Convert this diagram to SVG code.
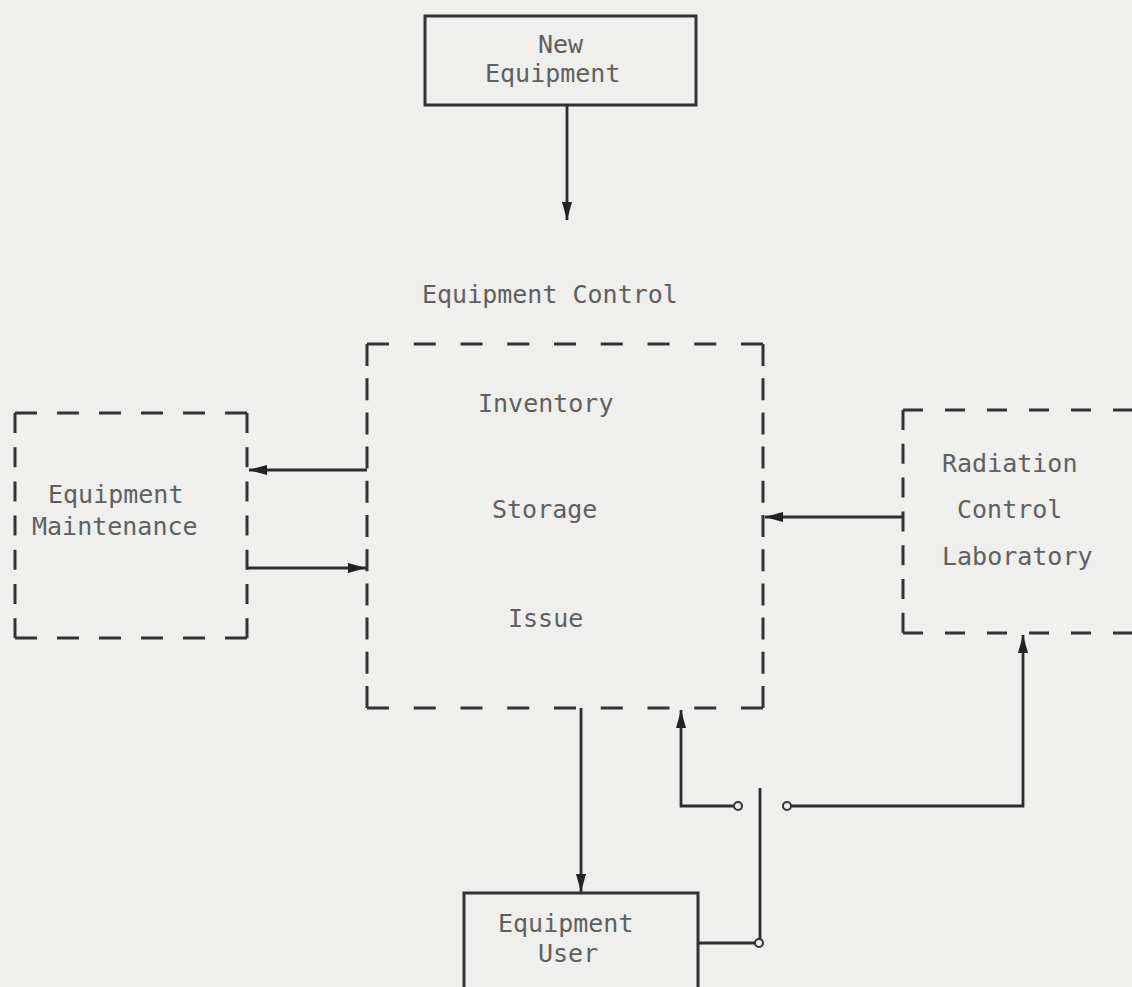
<svg xmlns="http://www.w3.org/2000/svg" width="1132" height="987" viewBox="0 0 1132 987">
<style>
.bg{fill:#efefed}
.box{fill:none;stroke:#333;stroke-width:3}
.dh{fill:none;stroke:#333;stroke-width:3}
.ln{fill:none;stroke:#2e2e2e;stroke-width:2.8}
.t{font-family:"DejaVu Sans Mono","Liberation Mono",monospace;font-size:25px;fill:#606060}
.c{fill:#efefed;stroke:#333;stroke-width:2}
</style>
<defs>
<marker id="ah" viewBox="0 0 18 10" refX="18" refY="5" markerWidth="18" markerHeight="10" markerUnits="userSpaceOnUse" orient="auto">
<path d="M0,0 L18,5 L0,10 z" fill="#222"/>
</marker>
</defs>
<rect class="bg" x="0" y="0" width="1132" height="987"/>

<g id="new-equipment">
<rect class="box" x="425" y="16" width="271" height="89"/>
<text class="t" x="538" y="53">New</text>
<text class="t" x="485" y="82">Equipment</text>
</g>

<g id="equipment-control">
<text class="t" x="422" y="303">Equipment Control</text>
<path class="dh" d="M367,344 L763,344" stroke-dasharray="22 24.75"/>
<path class="dh" d="M367,708 L763,708" stroke-dasharray="22 24.75"/>
<path class="dh" d="M367,344 L367,708" stroke-dasharray="22 12.2"/>
<path class="dh" d="M763,344 L763,708" stroke-dasharray="22 12.2"/>
<text class="t" x="478" y="412">Inventory</text>
<text class="t" x="492" y="518">Storage</text>
<text class="t" x="508" y="627">Issue</text>
</g>

<g id="equipment-maintenance">
<path class="dh" d="M15,413 L247,413" stroke-dasharray="22 20"/>
<path class="dh" d="M15,638 L247,638" stroke-dasharray="22 20"/>
<path class="dh" d="M15,413 L15,638" stroke-dasharray="20 14.2"/>
<path class="dh" d="M247,413 L247,638" stroke-dasharray="20 14.2"/>
<text class="t" x="48" y="503">Equipment</text>
<text class="t" x="32" y="535">Maintenance</text>
</g>

<g id="radiation-control-laboratory">
<path class="dh" d="M903,410 L1140,410" stroke-dasharray="20 22"/>
<path class="dh" d="M903,633 L1140,633" stroke-dasharray="20 22"/>
<path class="dh" d="M903,410 L903,633" stroke-dasharray="20 13.8"/>
<text class="t" x="942" y="472">Radiation</text>
<text class="t" x="957" y="518">Control</text>
<text class="t" x="942" y="565">Laboratory</text>
</g>

<g id="equipment-user">
<rect class="box" x="464" y="893" width="234" height="100"/>
<text class="t" x="498" y="932">Equipment</text>
<text class="t" x="538" y="962">User</text>
</g>

<g id="connectors">
<path class="ln" d="M567,105 L567,220" marker-end="url(#ah)"/>
<path class="ln" d="M367,470 L249,470" marker-end="url(#ah)"/>
<path class="ln" d="M247,568 L366,568" marker-end="url(#ah)"/>
<path class="ln" d="M903,517 L765,517" marker-end="url(#ah)"/>
<path class="ln" d="M581,708 L581,892" marker-end="url(#ah)"/>
<path class="ln" d="M698,943 L755,943"/>
<path class="ln" d="M760,939 L760,788"/>
<circle class="c" cx="759" cy="943" r="4"/>
<path class="ln" d="M734,806 L681,806 L681,710" marker-end="url(#ah)"/>
<circle class="c" cx="738" cy="806" r="4"/>
<path class="ln" d="M791,806 L1023,806 L1023,635" marker-end="url(#ah)"/>
<circle class="c" cx="787" cy="806" r="4"/>
</g>
</svg>
